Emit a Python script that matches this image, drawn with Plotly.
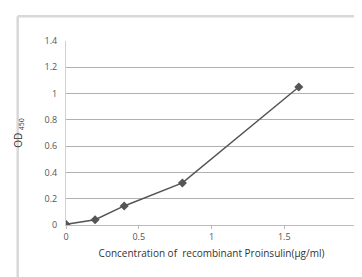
import plotly.graph_objects as go

concentration = [0, 0.2, 0.4, 0.8, 1.6]
od450 = [0.005, 0.04, 0.145, 0.32, 1.05]
x_ticks = [0, 0.5, 1, 1.5, 2]
x_tick_labels = ["0", "0.5", "1", "1.5", "2"]
y_ticks = [0, 0.2, 0.4, 0.6, 0.8, 1.0, 1.2, 1.4]
y_tick_labels = ["0", "0.2", "0.4", "0.6", "0.8", "1", "1.2", "1.4"]

fig = go.Figure()
fig.add_trace(go.Scatter(
    x=concentration, y=od450, mode="lines+markers",
    line=dict(color="#555555", width=1.5),
    marker=dict(symbol="diamond", size=7, color="#555555"),
    showlegend=False,
))

font = dict(family="Open Sans, Liberation Sans, sans-serif", color="#444444")

fig.update_layout(
    width=362, height=277,
    margin=dict(l=57, r=10, t=33, b=60),
    paper_bgcolor="white", plot_bgcolor="white",
    font=dict(size=9, **font),
    xaxis=dict(
        range=[0, 2], tickvals=x_ticks, ticktext=x_tick_labels,
        showgrid=False, zeroline=False,
        showline=True, linecolor="#bbbbbb", linewidth=1,
        ticks="outside", ticklen=3, tickcolor="#bbbbbb",
        tickfont=dict(size=9, color="#555555"),
        title=dict(text="Concentration of  recombinant Proinsulin(μg/ml)",
                   font=dict(size=10, color="#333333"), standoff=8),
    ),
    yaxis=dict(
        range=[0, 1.4], tickvals=y_ticks, ticktext=y_tick_labels,
        showgrid=True, gridcolor="#b0b0b0", gridwidth=1.2,
        zeroline=False,
        showline=True, linecolor="#d0d0d0", linewidth=1,
        ticks="outside", ticklen=6, tickcolor="white",
        tickfont=dict(size=9, color="#555555"),
        title=dict(text="OD <sub>450</sub>", font=dict(size=10, color="#333333"),
                   standoff=20),
    ),
    shapes=[
        dict(type="line", xref="paper", yref="paper",
             x0=-0.166, x1=1.1, y0=1.135, y1=1.135,
             line=dict(color="#d8d8d8", width=2.5)),
        dict(type="line", xref="paper", yref="paper",
             x0=-0.166, x1=-0.166, y0=1.135, y1=-0.4,
             line=dict(color="#d8d8d8", width=2.5)),
    ],
)

fig.write_html("out.html")
